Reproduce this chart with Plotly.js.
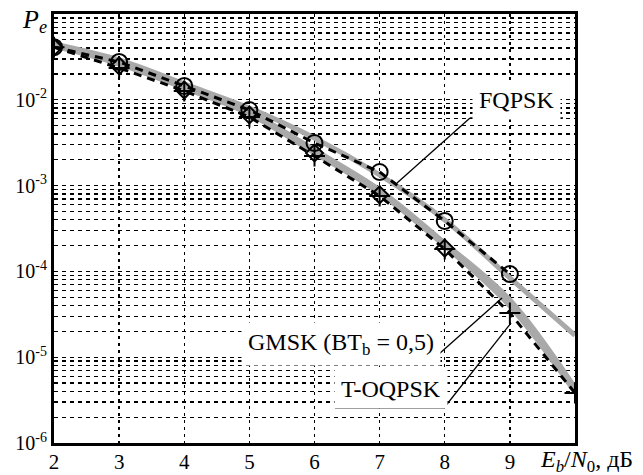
<!DOCTYPE html>
<html>
<head>
<meta charset="utf-8">
<script src="https://cdn.plot.ly/plotly-3.0.1.min.js"></script>
<style>html,body{margin:0;padding:0;background:#fff;}#chart{width:643px;height:475px;}</style>
</head>
<body>
<div id="chart"></div>
<script>
// Eb/N0, dB
const snr = [2, 3, 4, 5, 6, 7, 8, 9, 10];
const snrFq = [2, 3, 4, 5, 6, 7, 8, 9];
const snrGm = [2, 3, 4, 5, 6, 7, 8];

// FQPSK
const fqpskTheory = [0.0447, 0.0291, 0.0153, 0.0080, 0.00359, 0.00133, 0.000398, 8.4e-5, 1.8e-5];
const fqpskSim    = [0.041, 0.0276, 0.0145, 0.0076, 0.00314, 0.00144, 0.000387, 9.3e-5];

// GMSK (BTb = 0,5)
const gmskTheory  = [0.0430, 0.0276, 0.0145, 0.00721, 0.0026, 0.00089, 0.000214, 4.65e-5, 4.4e-6];
const gmskSim     = [0.041, 0.0248, 0.0130, 0.00665, 0.0024, 0.00078, 0.000187];

// T-OQPSK
const toqpskTheory = [0.0424, 0.0261, 0.0137, 0.00683, 0.0024, 0.00082, 0.000198, 3.95e-5, 3.93e-6];
const toqpskSim    = [0.041, 0.0235, 0.0127, 0.0063, 0.00221, 0.000757, 0.000182, 3.27e-5, 3.83e-6];

// ticks
const xTickVals = [2, 3, 4, 5, 6, 7, 8, 9, 10];
const xTickText = ['2', '3', '4', '5', '6', '7', '8', '9', ''];
const yDecades = [-6, -5, -4, -3, -2, -1];
const yLabelled = [-6, -5, -4, -3, -2];

const yTickVals = [], yTickText = [];
yDecades.forEach(function (d, i) {
  const base = Math.pow(10, d);
  yTickVals.push(base);
  yTickText.push(yLabelled.indexOf(d) >= 0 ? '10<sup>' + d + '</sup>' : '');
  if (i < yDecades.length - 1) {
    for (let m = 2; m <= 9; m++) { yTickVals.push(m * base); yTickText.push(''); }
  }
});

const GRAY = '#a9a9a9';
const FONT = '"Liberation Serif", "Times New Roman", serif';

const traces = [
  {x: snr, y: fqpskTheory, mode: 'lines', line: {color: GRAY, width: 5, shape: 'spline'}},
  {x: snr, y: gmskTheory, mode: 'lines', line: {color: GRAY, width: 5, shape: 'spline'}},
  {x: snr, y: toqpskTheory, mode: 'lines', line: {color: GRAY, width: 5, shape: 'spline'}},
  {x: snrFq, y: fqpskSim, mode: 'lines+markers', line: {color: '#000', width: 3, dash: '8px,6px'},
   marker: {symbol: 'circle-open', size: 16, color: '#000', line: {width: 2, color: '#000'}}},
  {x: snr, y: toqpskSim, mode: 'lines+markers', line: {color: '#000', width: 3, dash: '8px,6px'},
   marker: {symbol: 'cross-thin-open', size: 15, color: '#000', line: {width: 2, color: '#000'}}},
  {x: snrGm, y: gmskSim, mode: 'markers',
   marker: {symbol: 'diamond-open', size: 13, color: '#000', line: {width: 2, color: '#000'}}}
];

const L = 54, R = 575, T = 14, B = 443;
function px(x) { return (x - L) / (R - L); }
function py(y) { return (B - y) / (B - T); }
function seg(x0, y0, x1, y1) {
  return {type: 'line', xref: 'paper', yref: 'paper', x0: px(x0), y0: py(y0), x1: px(x1), y1: py(y1),
          line: {color: '#000', width: 1.3}, layer: 'above'};
}

const layout = {
  width: 643, height: 475,
  margin: {l: L, r: 643 - R, t: T, b: 475 - B, pad: 0},
  paper_bgcolor: '#fff', plot_bgcolor: '#fff',
  showlegend: false,
  font: {family: FONT, color: '#000'},
  xaxis: {
    range: [2, 10], tickvals: xTickVals, ticktext: xTickText, ticks: '',
    tickfont: {size: 21, family: FONT, color: '#000'}, ticklabelstandoff: -2,
    showgrid: true, gridcolor: '#000', gridwidth: 1.3, griddash: '3px,4px',
    showline: true, linecolor: '#000', linewidth: 3, mirror: true, zeroline: false
  },
  yaxis: {
    type: 'log', range: [-6, -1], tickvals: yTickVals, ticktext: yTickText, ticks: '',
    tickfont: {size: 20, family: FONT, color: '#000'},
    showgrid: true, gridcolor: '#000', gridwidth: 1.3, griddash: '4px,4px',
    showline: true, linecolor: '#000', linewidth: 3, mirror: true, zeroline: false
  },
  shapes: [
    seg(470, 118, 563, 118), seg(470, 118, 397, 183),
    seg(250, 362, 430, 362), seg(430, 362, 502, 298),
    seg(335, 408, 444, 408), seg(444, 408, 511, 323)
  ],
  annotations: [
    {xref: 'paper', yref: 'paper', x: px(516), y: py(100), text: 'FQPSK', showarrow: false,
     font: {size: 24, family: FONT}, bgcolor: '#fff', borderpad: 6, xanchor: 'center', yanchor: 'middle'},
    {xref: 'paper', yref: 'paper', x: px(341), y: py(344), text: 'GMSK (BT<sub>b</sub> = 0,5)', showarrow: false,
     font: {size: 24, family: FONT}, bgcolor: '#fff', borderpad: 6, xanchor: 'center', yanchor: 'middle'},
    {xref: 'paper', yref: 'paper', x: px(391), y: py(389), text: 'T-OQPSK', showarrow: false,
     font: {size: 24, family: FONT}, bgcolor: '#fff', borderpad: 6, xanchor: 'center', yanchor: 'middle'},
    {xref: 'paper', yref: 'paper', x: px(20), y: py(21), text: '<i>P</i><sub><i>e</i></sub>', showarrow: false,
     font: {size: 26, family: FONT}, xanchor: 'left', yanchor: 'middle'},
    {xref: 'paper', yref: 'paper', x: px(538), y: py(461), text: '<i>E<sub>b</sub></i>/<i>N</i><sub>0</sub>, дБ', showarrow: false,
     font: {size: 24, family: FONT}, xanchor: 'left', yanchor: 'middle'}
  ]
};

Plotly.newPlot('chart', traces, layout, {staticPlot: true, displayModeBar: false});
</script>
</body>
</html>
